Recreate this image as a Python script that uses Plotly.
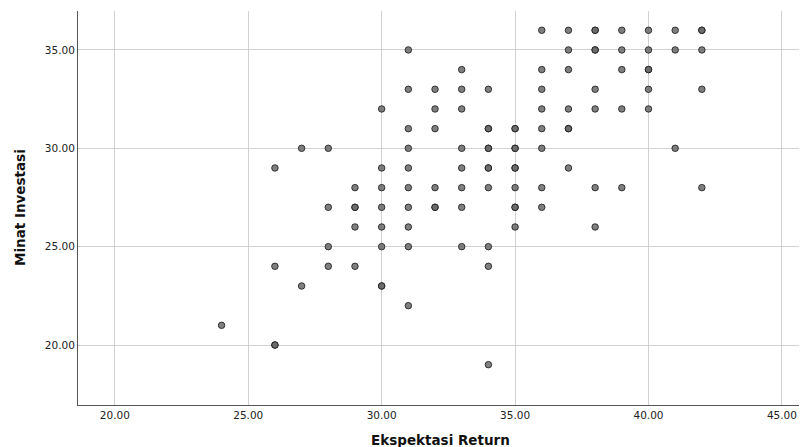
import plotly.graph_objects as go

# Ekspektasi Return (x) and Minat Investasi (y); repeated pairs are overlapping cases
ekspektasi_return = [
    24,
    26, 26, 26, 26,
    27, 27,
    28, 28, 28, 28,
    29, 29, 29, 29, 29,
    30, 30, 30, 30, 30, 30, 30, 30,
    31, 31, 31, 31, 31, 31, 31, 31, 31, 31,
    32, 32, 32, 32, 32, 32,
    33, 33, 33, 33, 33, 33, 33, 33,
    34, 34, 34, 34, 34, 34, 34, 34, 34, 34, 34,
    35, 35, 35, 35, 35, 35, 35, 35, 35, 35,
    36, 36, 36, 36, 36, 36, 36, 36,
    37, 37, 37, 37, 37, 37, 37,
    38, 38, 38, 38, 38, 38, 38, 38,
    39, 39, 39, 39, 39,
    40, 40, 40, 40, 40, 40,
    41, 41, 41,
    42, 42, 42, 42, 42,
]
minat_investasi = [
    21,
    29, 24, 20, 20,
    30, 23,
    30, 27, 25, 24,
    28, 27, 27, 26, 24,
    32, 29, 28, 27, 26, 25, 23, 23,
    35, 33, 31, 30, 29, 28, 27, 26, 25, 22,
    33, 32, 31, 28, 27, 27,
    34, 33, 32, 30, 29, 28, 27, 25,
    33, 31, 31, 30, 30, 29, 29, 28, 25, 24, 19,
    31, 31, 30, 30, 29, 29, 28, 27, 27, 26,
    36, 34, 33, 32, 31, 30, 28, 27,
    36, 35, 34, 32, 31, 31, 29,
    36, 36, 35, 35, 33, 32, 28, 26,
    36, 35, 34, 32, 28,
    36, 35, 34, 34, 33, 32,
    36, 35, 30,
    36, 36, 35, 33, 28,
]

x_ticks = [20, 25, 30, 35, 40, 45]
x_tick_labels = ["20.00", "25.00", "30.00", "35.00", "40.00", "45.00"]
y_ticks = [20, 25, 30, 35]
y_tick_labels = ["20.00", "25.00", "30.00", "35.00"]
x_title = "Ekspektasi Return"
y_title = "Minat Investasi"

fig = go.Figure()
fig.add_trace(go.Scatter(
    x=ekspektasi_return,
    y=minat_investasi,
    mode="markers",
    marker=dict(size=6.5, color="rgba(105,105,105,0.85)",
                line=dict(color="rgba(30,30,30,0.85)", width=1)),
    showlegend=False,
    hoverinfo="x+y",
))

fig.update_layout(
    width=807, height=447,
    margin=dict(l=70, r=0, t=3, b=50),
    paper_bgcolor="white", plot_bgcolor="white",
    font=dict(family="DejaVu Sans", size=10.5, color="#222222"),
    annotations=[
        dict(text="<b>" + y_title + "</b>", xref="paper", yref="paper",
             x=0, y=0.5, xshift=-58, xanchor="center", yanchor="middle",
             textangle=-90, showarrow=False, font=dict(size=13.5, color="#111111")),
        dict(text="<b>" + x_title + "</b>", xref="paper", yref="paper",
             x=0, y=0, xshift=362, yshift=-35, xanchor="center", yanchor="middle",
             showarrow=False, font=dict(size=13.5, color="#111111")),
    ],
)
fig.update_xaxes(
    range=[18.62, 46.24], tickvals=x_ticks, ticktext=x_tick_labels,
    showgrid=True, gridcolor="#d2d2d2", gridwidth=1,
    showline=True, linecolor="#555555", linewidth=1,
    zeroline=False, ticks="", ticklen=0, automargin=False,
)
fig.update_yaxes(
    range=[16.95, 36.98], tickvals=y_ticks, ticktext=y_tick_labels,
    showgrid=True, gridcolor="#d2d2d2", gridwidth=1,
    showline=True, linecolor="#555555", linewidth=1,
    zeroline=False, ticks="", ticklen=0, automargin=False,
)

fig.write_html("out.html")
